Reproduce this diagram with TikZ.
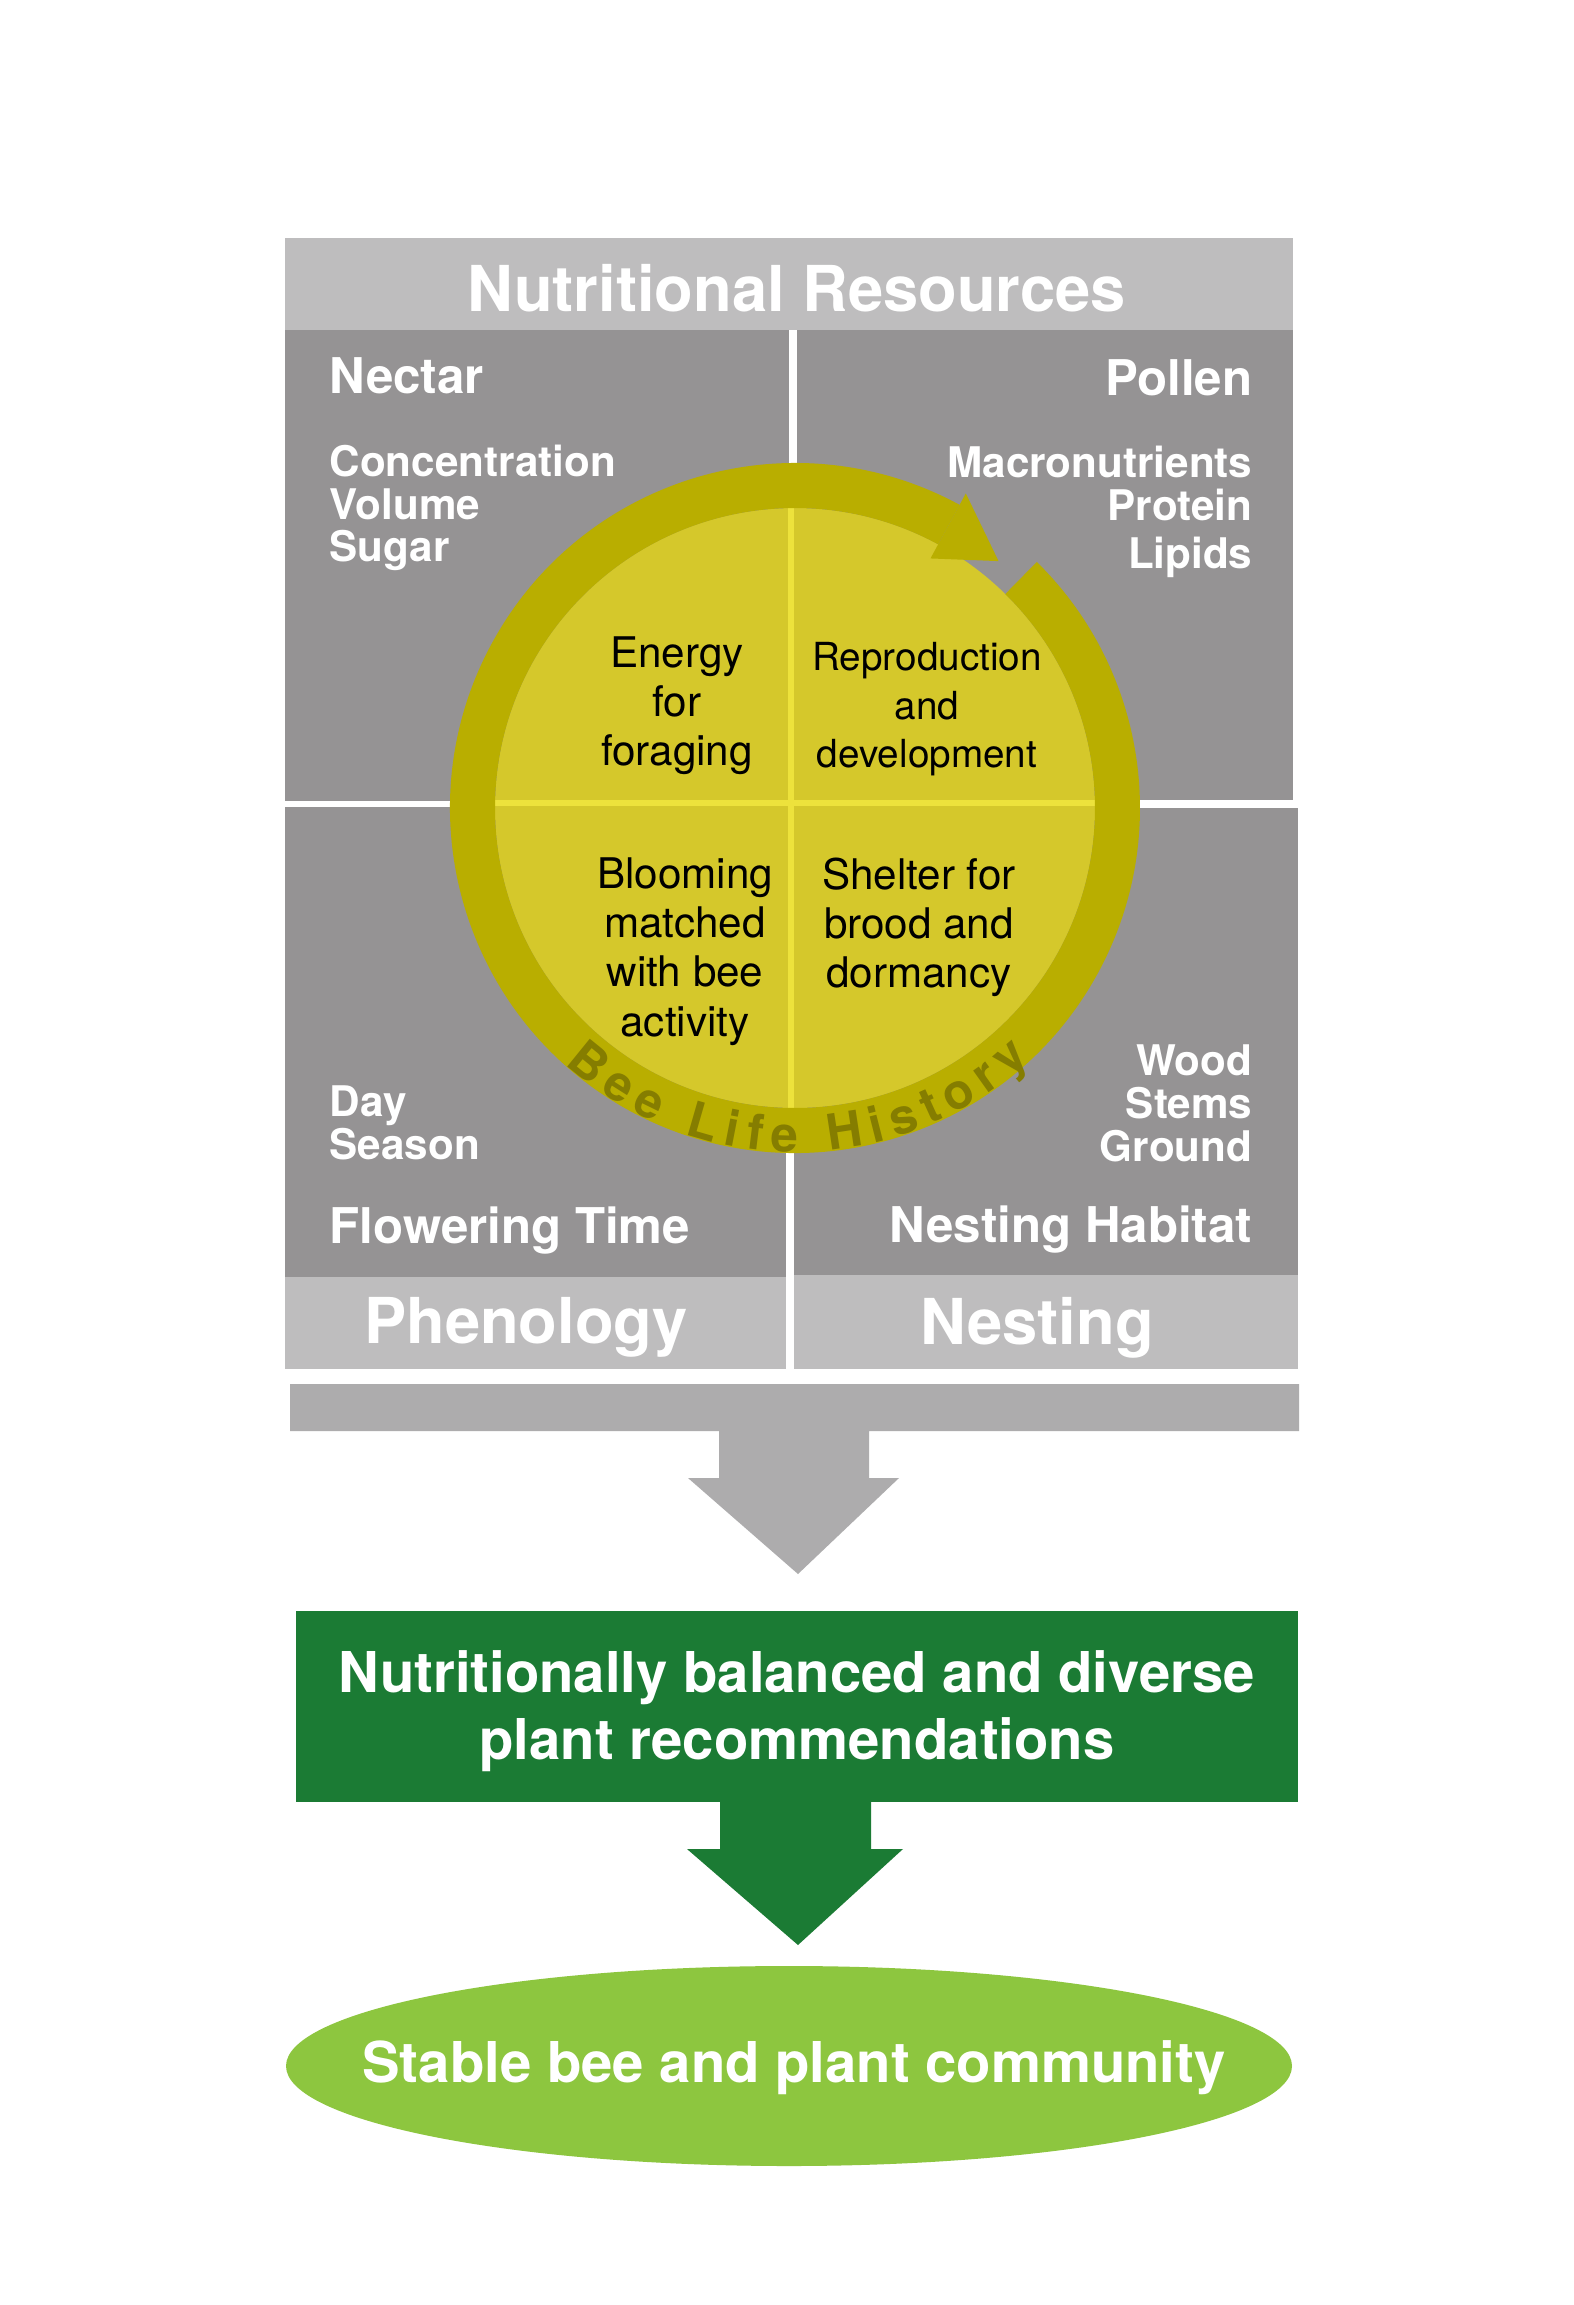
\documentclass[tikz,border=0pt]{standalone}
\usepackage{fontspec}
\setmainfont{TeX Gyre Heros}
\usetikzlibrary{decorations.text}
\definecolor{panelgray}{HTML}{959394}
\definecolor{bandgray}{HTML}{BEBDBE}
\definecolor{arrowgray}{HTML}{ADACAD}
\definecolor{ringolive}{HTML}{B9AE00}
\definecolor{discyellow}{HTML}{D5C82B}
\definecolor{crossyellow}{HTML}{EDE23C}
\definecolor{textolive}{HTML}{857D00}
\definecolor{leafgreen}{HTML}{1B7B34}
\definecolor{limegreen}{HTML}{8DC63F}
\tikzset{
  bandtext/.style={text=white,inner sep=0pt,font=\bfseries\fontsize{18}{21}\selectfont},
  headtext/.style={text=white,inner sep=0pt,font=\bfseries\fontsize{14}{16}\selectfont},
  listtext/.style={text=white,inner sep=0pt,align=#1,font=\bfseries\fontsize{12}{12.2}\selectfont},
  listtext/.default=left,
  disctext/.style={inner sep=0pt,align=center,font=\fontsize{12}{14}\selectfont},
  boxtext/.style={text=white,inner sep=0pt,align=center,font=\bfseries\fontsize{16}{19.2}\selectfont}
}
\begin{document}
\begin{tikzpicture}[x=0.01cm,y=0.01cm]
    \useasboundingbox (0,0) rectangle (1574,-2305);
    \fill[white] (0,0) rectangle (1574,-2305);
    \coordinate (hub) at (795,-808);

    \fill[bandgray] (285,-238) rectangle (1293,-330);
    \fill[panelgray] (285,-330) rectangle (789,-801);
    \fill[panelgray] (797,-330) rectangle (1293,-800);
    \fill[panelgray] (285,-807) rectangle (786,-1277);
    \fill[panelgray] (794,-808) rectangle (1298,-1275);
    \fill[bandgray] (285,-1277) rectangle (786,-1369);
    \fill[bandgray] (794,-1275) rectangle (1298,-1369);

    \fill[discyellow] (hub) circle (300);
    \begin{scope}
        \clip (hub) circle (300);
        \draw[crossyellow,line width=1.5pt] (480,-803) -- (1110,-803);
        \draw[crossyellow,line width=1.5pt] (791,-490) -- (791,-1120);
    \end{scope}
    \begin{scope}[shift={(hub)}]
        \fill[ringolive] (61.5:345) arc[start angle=61.5,end angle=405.5,radius=345]
            -- (45.5:300) arc[start angle=405.5,end angle=61.5,radius=300] -- cycle;
        \fill[ringolive] (61.5:358) -- (50.5:320) -- (61.5:284) -- cycle;
        \path[decorate,decoration={text along path,text align={fit to path},text color=textolive,
            text={|\bfseries\fontsize{14}{14}\selectfont|Bee Life History}}]
            (228:344) arc[start angle=228,end angle=313,radius=344];
    \end{scope}

    \node[bandtext,anchor=north] (nutrition) at (797,-264) {Nutritional Resources};
    \node[headtext,anchor=north west] (nectar) at (329,-357) {Nectar};
    \node[listtext,anchor=north west] (nectarlist) at (329,-444) {Concentration\\Volume\\Sugar};
    \node[headtext,anchor=north east] (pollen) at (1253,-359) {Pollen};
    \node[listtext=right,anchor=north east] (pollenlist) at (1253,-445) {Macronutrients\\Protein\\[1.5pt]Lipids};
    \node[listtext,anchor=north west] (daylist) at (329,-1085) {Day\\Season};
    \node[headtext,anchor=north west] (flowering) at (329,-1206) {Flowering Time};
    \node[listtext=right,anchor=north east] (nestlist) at (1253,-1044) {Wood\\Stems\\Ground};
    \node[headtext,anchor=north east] (habitat) at (1253,-1205) {Nesting Habitat};
    \node[bandtext,anchor=north] (phenology) at (526,-1297) {Phenology};
    \node[bandtext,anchor=north] (nesting) at (1037,-1297) {Nesting};

    \node[disctext,anchor=north] (energy) at (677,-636) {Energy\\for\\foraging};
    \node[disctext,anchor=north,font=\fontsize{11}{13.8}\selectfont] (repro) at (927,-642) {Reproduction\\and\\development};
    \node[disctext,anchor=north] (blooming) at (685,-857) {Blooming\\matched\\with bee\\activity};
    \node[disctext,anchor=north] (shelter) at (919,-857) {Shelter for\\brood and\\dormancy};

    \fill[arrowgray] (290,-1384) -- (1299,-1384) -- (1299,-1431) -- (869,-1431) -- (869,-1478)
        -- (899,-1478) -- (798,-1574) -- (688,-1478) -- (719,-1478) -- (719,-1431) -- (290,-1431) -- cycle;

    \fill[leafgreen] (296,-1611) rectangle (1298,-1802);
    \node[boxtext] (recommend) at (797,-1711) {Nutritionally balanced and diverse\\plant recommendations};
    \fill[leafgreen] (720,-1800) -- (871,-1800) -- (871,-1849) -- (903,-1849) -- (798,-1945)
        -- (687,-1849) -- (720,-1849) -- cycle;

    \fill[limegreen] (789,-2066) ellipse [x radius=503,y radius=100];
    \node[boxtext] (community) at (794,-2068) {Stable bee and plant community};
\end{tikzpicture}
\end{document}
